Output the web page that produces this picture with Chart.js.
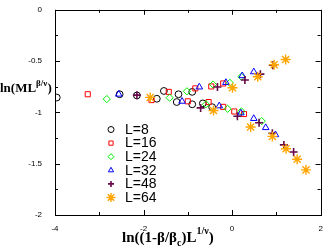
<!DOCTYPE html>
<html>
<head>
<meta charset="utf-8">
<script src="https://cdn.jsdelivr.net/npm/chart.js@4/dist/chart.umd.min.js"></script>
<style>
    html, body { margin: 0; padding: 0; background: #fff; }
    #wrap { width: 327px; height: 250px; position: relative; }
</style>
</head>
<body>
<div id="wrap"><canvas id="chart"></canvas></div>
<script>
// data
const l8X = [-3.96, -2.54, -2.15, -1.70, -1.54, -1.25, -1.21, -0.90, -0.90, -0.66, -0.45];
const l8Y = [-0.855, -0.823, -0.835, -0.867, -0.791, -0.899, -0.823, -0.800, -0.921, -0.912, -0.949];

const l16X = [-3.26, -1.82, -1.43, -1.00, -0.83, -0.53, -0.47, -0.20, -0.20, 0.05, 0.27];
const l16Y = [-0.823, -0.880, -0.800, -0.892, -0.766, -0.899, -0.747, -0.718, -0.946, -0.991, -1.016];

const l24X = [-2.83, -1.41, -1.02, -0.59, -0.43, -0.10, -0.05, 0.21, 0.21, 0.67];
const l24Y = [-0.870, -0.857, -0.794, -0.921, -0.728, -0.965, -0.712, -0.652, -0.990, -1.085];

const l32X = [-2.56, -1.13, -0.74, -0.29, -0.14, 0.20, 0.23, 0.49, 0.49, 0.76, 0.98];
const l32Y = [-0.823, -0.892, -0.753, -0.937, -0.709, -1.006, -0.643, -1.060, -0.605, -1.149, -1.218];

const l48X = [-2.15, -0.71, -0.33, 0.12, 0.29, 0.61, 0.64, 0.91, 0.92, 1.17, 1.39];
const l48Y = [-0.832, -0.956, -0.753, -1.038, -0.684, -1.101, -0.627, -1.203, -0.541, -1.317, -1.386];

const l64X = [-1.85, -0.42, 0.01, 0.42, 0.58, 0.91, 0.95, 1.21, 1.22, 1.47, 1.67];
const l64Y = [-0.854, -0.981, -0.760, -1.142, -0.652, -1.234, -0.535, -0.484, -1.355, -1.456, -1.560];

const labels = ['L=8', 'L=16', 'L=24', 'L=32', 'L=48', 'L=64'];
const xTicks = [-4, -2, 0, 2];
const yTicks = [0, -0.5, -1, -1.5, -2];

function pts(xs, ys) {
    return xs.map((x, i) => ({ x: x, y: ys[i] }));
}

const series = [
    { x: l8X, y: l8Y, color: '#000000', style: 'circle', r: 3.4 },
    { x: l16X, y: l16Y, color: '#ff0000', style: 'rect', r: 3.6 },
    { x: l24X, y: l24Y, color: '#00f000', style: 'rectRot', r: 3.6 },
    { x: l32X, y: l32Y, color: '#0000ff', style: 'triangle', r: 3.8 },
    { x: l48X, y: l48Y, color: '#670748', style: 'cross', r: 4 },
    { x: l64X, y: l64Y, color: '#ffa500', style: 'star', r: 5 }
];

const datasets = series.map((s, i) => ({
    label: labels[i],
    data: pts(s.x, s.y),
    pointStyle: s.style,
    pointRadius: s.r,
    pointBorderColor: s.color,
    pointBackgroundColor: 'rgba(0,0,0,0)',
    pointBorderWidth: s.style === 'star' ? 1.4 : (s.style === 'cross' ? 1.6 : 1),
    showLine: false,
    order: series.length - i
}));

// box with inward major/minor ticks on all four sides
const framePlugin = {
    id: 'frame',
    afterDraw(chart) {
        const ctx = chart.ctx;
        const a = chart.chartArea;
        const xs = chart.scales.x, ys = chart.scales.y;
        ctx.save();
        ctx.strokeStyle = '#000';
        ctx.lineWidth = 1;
        ctx.strokeRect(Math.round(a.left) + 0.5, Math.round(a.top) + 0.5,
            Math.round(a.right - a.left), Math.round(a.bottom - a.top));
        ctx.beginPath();
        for (let v = -4; v <= 2; v += 1) {
            const len = (v % 2 === 0) ? 5 : 3;
            const px = Math.round(xs.getPixelForValue(v)) + 0.5;
            ctx.moveTo(px, a.bottom); ctx.lineTo(px, a.bottom - len);
            ctx.moveTo(px, a.top); ctx.lineTo(px, a.top + len);
        }
        for (let k = 0; k <= 8; k++) {
            const v = -k * 0.25;
            const len = (k % 2 === 0) ? 5 : 3;
            const py = Math.round(ys.getPixelForValue(v)) + 0.5;
            ctx.moveTo(a.left, py); ctx.lineTo(a.left + len, py);
            ctx.moveTo(a.right, py); ctx.lineTo(a.right - len, py);
        }
        ctx.stroke();
        ctx.restore();
    }
};

function drawRich(ctx, parts, x, y) {
    parts.forEach(p => {
        ctx.font = 'bold ' + p.size + 'px "Liberation Serif", "Times New Roman", serif';
        ctx.fillText(p.t, x, y + (p.dy || 0));
        x += ctx.measureText(p.t).width;
    });
}

const textPlugin = {
    id: 'texts',
    afterDraw(chart) {
        const ctx = chart.ctx;
        ctx.save();
        ctx.fillStyle = '#000';
        ctx.textBaseline = 'alphabetic';
        ctx.textAlign = 'left';
        // y axis title
        drawRich(ctx, [
            { t: 'ln(ML', size: 13 },
            { t: 'β/ν', size: 9, dy: -6 },
            { t: ')', size: 13 }
        ], 0, 92);
        // x axis title
        drawRich(ctx, [
            { t: 'ln((1-β/β', size: 15 },
            { t: 'c', size: 10, dy: 4 },
            { t: ')L', size: 15 },
            { t: '1/ν', size: 10, dy: -8 },
            { t: ')', size: 15 }
        ], 122, 242);

        // legend inside the plot
        const lx = 111, ly = 129.5, step = 13.6;
        series.forEach((s, i) => {
            const y = ly + i * step;
            ctx.strokeStyle = s.color;
            ctx.fillStyle = 'rgba(0,0,0,0)';
            ctx.lineWidth = s.style === 'star' ? 1.4 : (s.style === 'cross' ? 1.6 : 1);
            if (Chart.helpers && Chart.helpers.drawPoint) {
                Chart.helpers.drawPoint(ctx, {
                    pointStyle: s.style,
                    radius: s.style === 'star' ? 4.5 : 3,
                    rotation: 0,
                    borderWidth: ctx.lineWidth
                }, lx, y);
            }
            ctx.fillStyle = '#000';
            ctx.font = '14px "Liberation Sans", Arial, sans-serif';
            ctx.textBaseline = 'middle';
            ctx.fillText(labels[i], 125, y + 0.5);
        });
        ctx.restore();
    }
};

new Chart(document.getElementById('chart'), {
    type: 'scatter',
    data: { datasets: datasets },
    plugins: [framePlugin, textPlugin],
    options: {
        responsive: true,
        maintainAspectRatio: false,
        animation: false,
        layout: { padding: { left: 0, right: 5, top: 4, bottom: 0 } },
        plugins: { legend: { display: false }, tooltip: { enabled: false } },
        scales: {
            x: {
                type: 'linear',
                min: -4, max: 2,
                afterFit: s => { s.height = 35; },
                afterBuildTicks: s => { s.ticks = xTicks.map(v => ({ value: v })); },
                grid: { display: false },
                border: { display: false },
                ticks: {
                    color: '#000',
                    padding: 1,
                    maxRotation: 0,
                    font: { size: 8, family: '"Liberation Sans", Arial, sans-serif' },
                    callback: v => String(v)
                }
            },
            y: {
                type: 'linear',
                min: -2, max: 0,
                afterFit: s => { s.width = 55; },
                afterBuildTicks: s => { s.ticks = yTicks.map(v => ({ value: v })); },
                grid: { display: false },
                border: { display: false },
                ticks: {
                    color: '#000',
                    padding: 5,
                    font: { size: 8, family: '"Liberation Sans", Arial, sans-serif' },
                    callback: v => String(v)
                }
            }
        }
    }
});
</script>
</body>
</html>
